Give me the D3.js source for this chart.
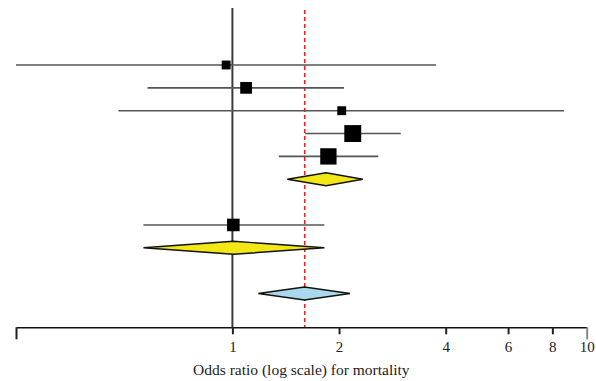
<!DOCTYPE html>
<html><head><meta charset="utf-8">
<script src="https://cdn.jsdelivr.net/npm/d3@7"></script>
<style>html,body{margin:0;padding:0;background:#fff}svg{display:block}</style>
</head><body>
<script>
// Rows (top to bottom); type: study / pooled / blank
const rowTypes = ["study","study","study","study","study","pooled","blank","study","pooled","blank","overall"];
const pointEst = [0.96, 1.093, 2.035, 2.186, 1.866, 1.838, null, 1.006, 1.006, null, 1.597];
const lowerCI  = [0.245, 0.576, 0.477, 1.604, 1.352, 1.429, null, 0.561, 0.561, null, 1.184];
const upperCI  = [3.757, 2.066, 8.63, 2.987, 2.582, 2.333, null, 1.818, 1.818, null, 2.148];
const weights  = [8, 14, 8, 29, 27, null, null, 16, null, null, null];
const tickValues = [0.245, 1, 2, 4, 6, 8, 10];
const tickLabels = ["", "1", "2", "4", "6", "8", "10"];
const referenceOR = 1.6;
const axisTitle = "Odds ratio (log scale) for mortality";

const W = 596, H = 381;
const svg = d3.select("body").append("svg").attr("width", W).attr("height", H);

const x = d3.scaleLog().domain([0.245, 10]).range([16, 586.7]);
const y = d3.scaleLinear().domain([0, rowTypes.length - 1]).range([65, 293.5]);
const size = d3.scaleSqrt().domain([0, 30]).range([0, 17.2]);
const axisY = 327.3;

// vertical line at OR = 1
svg.append("line").attr("x1", x(1)).attr("x2", x(1)).attr("y1", 8).attr("y2", axisY)
  .attr("stroke", "#3a3a3a").attr("stroke-width", 2);

// red dashed reference line
svg.append("line").attr("x1", x(referenceOR)).attr("x2", x(referenceOR)).attr("y1", 10).attr("y2", axisY)
  .attr("stroke", "#ff1a1a").attr("stroke-width", 1.5).attr("stroke-dasharray", "4,3");

const rows = rowTypes.map((t, i) => ({t, i, p: pointEst[i], lo: lowerCI[i], hi: upperCI[i], w: weights[i]}));

// CI lines for studies
svg.selectAll(".ci").data(rows.filter(r => r.t === "study")).enter().append("line")
  .attr("x1", d => x(d.lo)).attr("x2", d => x(d.hi))
  .attr("y1", d => y(d.i)).attr("y2", d => y(d.i))
  .attr("stroke", "#555").attr("stroke-width", 1.6);

// squares
svg.selectAll(".sq").data(rows.filter(r => r.t === "study")).enter().append("rect")
  .attr("x", d => x(d.p) - size(d.w) / 2).attr("y", d => y(d.i) - size(d.w) / 2)
  .attr("width", d => size(d.w)).attr("height", d => size(d.w))
  .attr("fill", "#000");

// diamonds
const halfH = 6.5;
svg.selectAll(".dia").data(rows.filter(r => r.t === "pooled" || r.t === "overall")).enter().append("path")
  .attr("d", d => {
    const cy = y(d.i);
    return `M${x(d.lo)},${cy}L${x(d.p)},${cy - halfH}L${x(d.hi)},${cy}L${x(d.p)},${cy + halfH}Z`;
  })
  .attr("fill", d => d.t === "overall" ? "#a9d9ea" : "#f2e816")
  .attr("stroke", "#111").attr("stroke-width", 1.4).attr("stroke-linejoin", "miter");

// x axis
const axis = d3.axisBottom(x).tickValues(tickValues)
  .tickFormat((d, i) => tickLabels[i]).tickSize(7).tickSizeOuter(0);
const g = svg.append("g").attr("transform", `translate(0,${axisY})`).call(axis);
g.select(".domain").attr("stroke", "#111").attr("stroke-width", 1.6);
g.selectAll(".tick line").attr("stroke", "#222").attr("stroke-width", 2)
  .attr("y2", (d, i) => (i === 0 || i === tickValues.length - 1) ? 12 : 7)
  .attr("stroke", (d, i) => (i === tickValues.length - 1) ? "#888" : "#222");
g.selectAll(".tick text").attr("font-family", "'Liberation Serif', 'DejaVu Serif', serif")
  .attr("font-size", 15).attr("fill", "#222").attr("y", 14);

svg.append("text").attr("x", (x.range()[0] + x.range()[1]) / 2).attr("y", 375)
  .attr("text-anchor", "middle").attr("font-family", "'Liberation Serif', 'DejaVu Serif', serif")
  .attr("font-size", 15.5).attr("fill", "#222").text(axisTitle);
</script>
</body></html>
